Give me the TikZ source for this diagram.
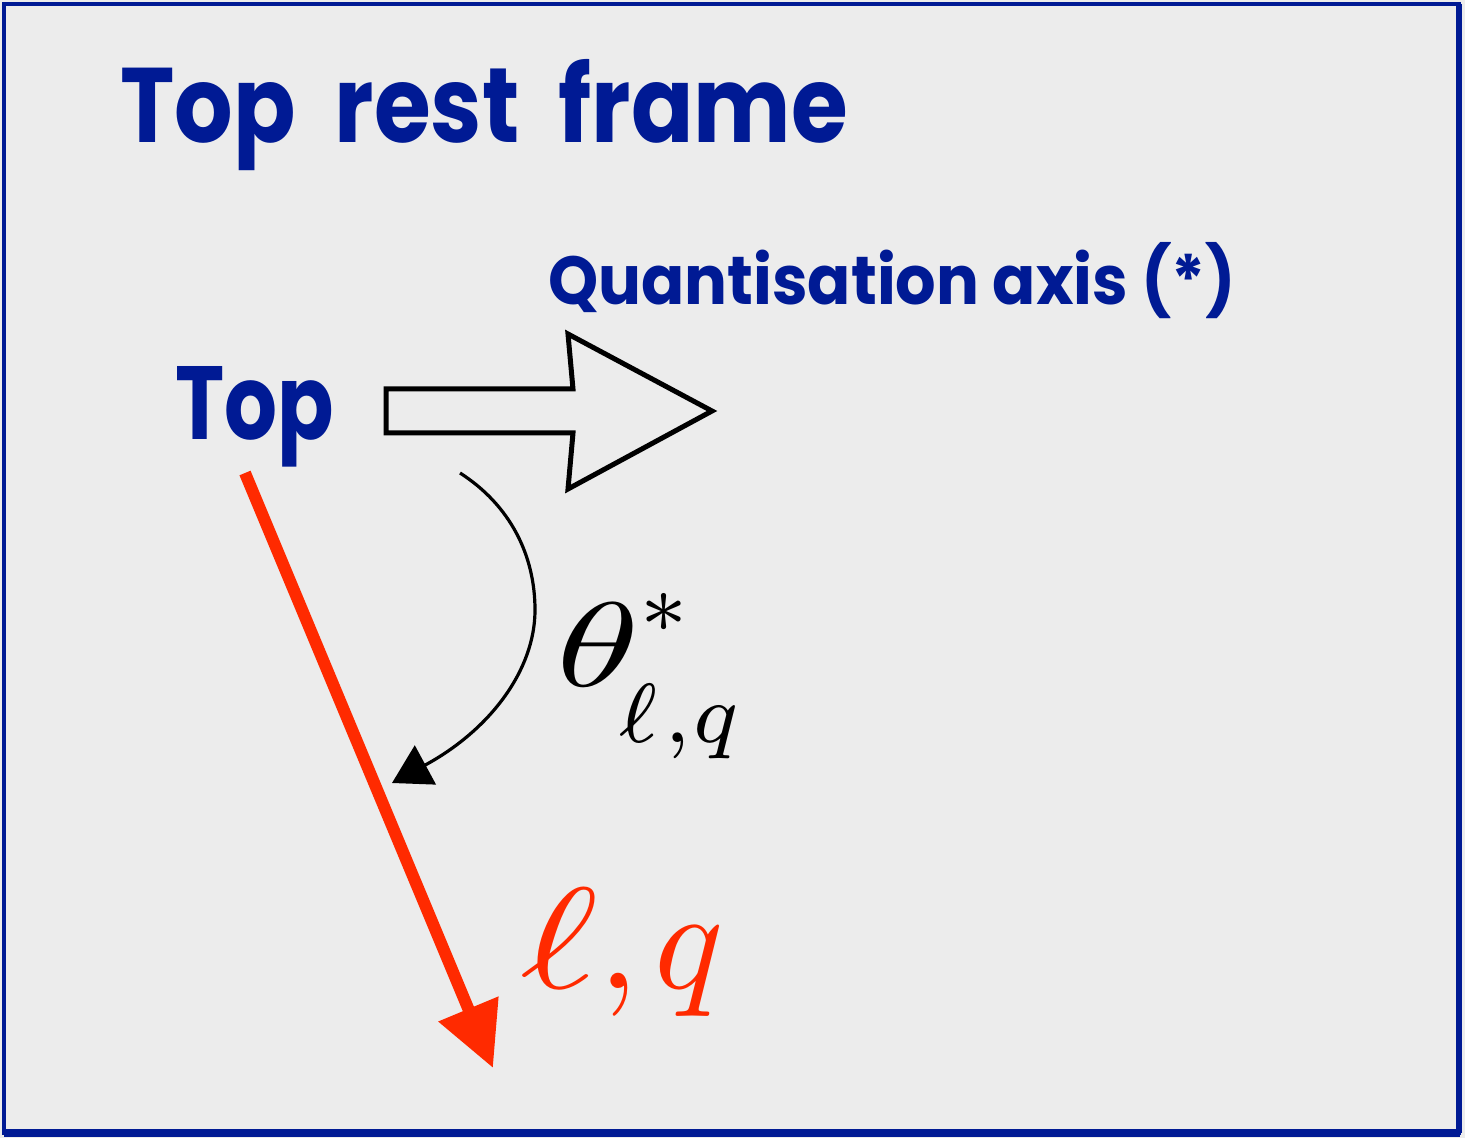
\documentclass[tikz,border=0pt]{standalone}
\usepackage{graphicx}
\usepackage{fontspec}
\newfontfamily\comicfont{Poppins}[BoldFont={* Bold}]
\usetikzlibrary{arrows.meta}
\definecolor{bg}{HTML}{ECECEC}
\definecolor{navy}{HTML}{001A94}
\definecolor{redarr}{HTML}{FF2A00}
\tikzset{
  lbl/.style={inner sep=0pt, text=navy},
  hollow/.style={draw=black, line width=2.5pt, line join=miter, fill=bg},
  anglearrow/.style={draw=black, line width=1.6pt, -{Triangle[length=19pt,width=22pt]}},
  leparrow/.style={draw=redarr, line width=6pt, -{Triangle[length=32pt,width=31pt]}},
}
\begin{document}
\begin{tikzpicture}[x=0.5pt,y=-0.5pt]
\useasboundingbox (0,0) rectangle (1465,1138);
\fill[bg] (0,0) rectangle (1465,1138);
% border
\draw[navy, line width=2pt] (4,4) rectangle (1459,1133);
\draw[navy, line width=3pt] (1459,4) -- (1459,1133);
\draw[navy, line width=4pt] (4,1133) -- (1460,1133);
% title
\node[lbl, anchor=base west, font=\comicfont\bfseries\fontsize{53}{60}\selectfont] (title) at (120,143) {\scalebox{0.868}[1]{Top\ \ rest\ \ frame}};
\node[lbl, anchor=base west, font=\comicfont\bfseries\fontsize{34}{40}\selectfont] (qaxis) at (548,305) {\scalebox{0.937}[1]{Quantisation\ axis\ (*)}};
\node[lbl, anchor=base west, font=\comicfont\bfseries\fontsize{52}{60}\selectfont] (top) at (175,440) {\scalebox{0.8}[1]{Top}};
% hollow arrow
\draw[hollow] (386,389) -- (573,389) -- (568,334) -- (712,411) -- (568,489) -- (573,433) -- (386,433) -- cycle;
% angle arrow
\coordinate (a0) at (460,473);
\coordinate (am) at (535,610);
\coordinate (a1) at (392,783);
\draw[anglearrow] (a0) .. controls (510,505) and (535,555) .. (am) .. controls (535,670) and (490,730) .. (a1);
\node[anchor=base west, inner sep=0pt] (theta) at (556,686) {\scalebox{6}{$\scalebox{1.4}[1]{$\theta$}^{*}_{\mkern-4mu\raisebox{-2.2pt}{$\scriptstyle\ell\mkern1mu,q$}}$}};
% lepton arrow
\coordinate (l0) at (245,473);
\coordinate (l1) at (493,1068);
\draw[leparrow] (l0) -- (l1);
\node[anchor=base west, inner sep=0pt, text=redarr] (lq) at (520,988) {\scalebox{7.2}[7.2]{$\scalebox{1.3}[1]{$\ell$},\mkern-1mu q$}};
\end{tikzpicture}
\end{document}
